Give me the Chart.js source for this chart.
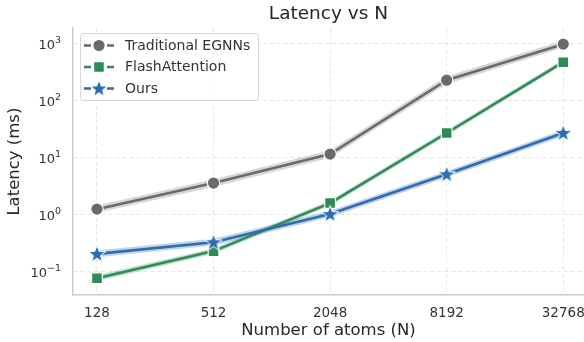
<!DOCTYPE html>
<html>
<head>
<meta charset="utf-8">
<script src="https://cdn.jsdelivr.net/npm/chart.js@4.4.1/dist/chart.umd.min.js"></script>
<style>
  html, body { margin: 0; padding: 0; background: #fff; }
  #wrap { width: 584px; height: 342px; }
</style>
</head>
<body>
<div id="wrap"><canvas id="myChart"></canvas></div>
<script>
// data
const atoms = [128, 512, 2048, 8192, 32768];

const traditional   = [1.22, 3.5, 11.3, 224, 960];
const traditionalLo = [1.05, 3.0, 9.7, 192, 830];
const traditionalHi = [1.42, 4.1, 13.2, 262, 1110];

const flash   = [0.075, 0.224, 1.56, 26.5, 464];
const flashLo = [0.066, 0.200, 1.40, 23.8, 420];
const flashHi = [0.085, 0.252, 1.74, 29.5, 515];

const ours   = [0.20, 0.32, 1.0, 5.0, 26.5];
const oursLo = [0.174, 0.28, 0.88, 4.4, 23.3];
const oursHi = [0.23, 0.37, 1.14, 5.7, 30.2];

const yTicks = [0.1, 1, 10, 100, 1000];
const yTickExp = ['\u22121', '0', '1', '2', '3'];

const GRAY = '#69696e', GREEN = '#2e8b57', BLUE = '#2d6cb3';

function makeStar(r, color) {
  const c = document.createElement('canvas');
  const s = Math.ceil(r * 2 + 4);
  c.width = s; c.height = s;
  const g = c.getContext('2d');
  g.beginPath();
  for (let i = 0; i < 10; i++) {
    const rad = i % 2 === 0 ? r : r * 0.42;
    const a = -Math.PI / 2 + i * Math.PI / 5;
    const px = s / 2 + rad * Math.cos(a), py = s / 2 + 0.5 + rad * Math.sin(a);
    i === 0 ? g.moveTo(px, py) : g.lineTo(px, py);
  }
  g.closePath();
  g.fillStyle = color;
  g.fill();
  g.strokeStyle = '#fff';
  g.lineWidth = 1;
  g.stroke();
  return c;
}
const starImg = makeStar(9, BLUE);

function pts(vals) { return vals.map((v, i) => ({x: atoms[i], y: v})); }

const series = [
  {label: 'Traditional EGNNs', vals: traditional, lo: traditionalLo, hi: traditionalHi, color: GRAY, band: 'rgba(150,150,152,0.38)', style: 'circle', radius: 6.2, order: 2},
  {label: 'FlashAttention', vals: flash, lo: flashLo, hi: flashHi, color: GREEN, band: 'rgba(46,139,87,0.28)', style: 'rect', radius: 7.6, order: 1},
  {label: 'Ours', vals: ours, lo: oursLo, hi: oursHi, color: BLUE, band: 'rgba(45,108,179,0.30)', style: starImg, radius: 9, order: 0}
];

const datasets = [];
series.forEach(s => {
  const loIdx = datasets.length;
  datasets.push({data: pts(s.lo), borderWidth: 0, pointRadius: 0, fill: false, order: 10});
  datasets.push({data: pts(s.hi), borderWidth: 0, pointRadius: 0, fill: loIdx, backgroundColor: s.band, order: 10});
});
series.forEach(s => {
  datasets.push({
    label: s.label, data: pts(s.vals), borderColor: s.color, backgroundColor: s.color,
    borderWidth: 2.6, pointStyle: s.style, pointRadius: s.radius, pointHoverRadius: s.radius,
    pointBorderColor: '#fff', pointBorderWidth: 1.2, pointBackgroundColor: s.color,
    fill: false, order: s.order, clip: false
  });
});

// legend drawn like the reference: dashed line with marker
const legendBox = {
  id: 'legendBox',
  afterDraw(chart) {
    const ctx = chart.ctx;
    ctx.save();
    const x0 = 80.5, y0 = 33.5, w = 178, h = 67;
    ctx.beginPath();
    ctx.roundRect(x0, y0, w, h, 3);
    ctx.fillStyle = 'rgba(255,255,255,0.85)';
    ctx.fill();
    ctx.strokeStyle = '#d6d6d6';
    ctx.lineWidth = 1;
    ctx.stroke();
    series.forEach((s, i) => {
      const cy = 45.5 + i * 21.5;
      ctx.strokeStyle = s.color;
      ctx.lineWidth = 2.6;
      ctx.beginPath();
      ctx.moveTo(84, cy); ctx.lineTo(91, cy);
      ctx.moveTo(107, cy); ctx.lineTo(114, cy);
      ctx.stroke();
      if (s.style === starImg) {
        ctx.drawImage(starImg, 99 - starImg.width / 2, cy - starImg.height / 2);
      } else {
        ctx.fillStyle = s.color;
        ctx.strokeStyle = '#fff';
        ctx.lineWidth = 1.2;
        ctx.beginPath();
        if (s.style === 'circle') ctx.arc(99, cy, s.radius, 0, Math.PI * 2);
        else { const a = s.radius * Math.SQRT1_2; ctx.rect(99 - a, cy - a, 2 * a, 2 * a); }
        ctx.fill(); ctx.stroke();
      }
      ctx.fillStyle = '#333';
      ctx.font = '14px "DejaVu Sans"';
      ctx.textBaseline = 'middle';
      ctx.textAlign = 'left';
      ctx.fillText(s.label, 125, cy + 0.5);
    });
    ctx.restore();
  }
};

// tick labels: 10 with a raised exponent on y, plain numbers on x
const tickLabels = {
  id: 'tickLabels',
  afterDraw(chart) {
    const ctx = chart.ctx, ys = chart.scales.y, xs = chart.scales.x;
    ctx.save();
    ctx.fillStyle = '#333';
    ctx.textBaseline = 'alphabetic';
    ctx.textAlign = 'left';
    yTicks.forEach((v, i) => {
      const y = ys.getPixelForValue(v);
      ctx.font = '9.5px "DejaVu Sans"';
      const ew = ctx.measureText(yTickExp[i]).width;
      ctx.font = '13px "DejaVu Sans"';
      const bw = ctx.measureText('10').width;
      const right = 61;
      ctx.fillText('10', right - ew - bw, y + 6);
      ctx.font = '9.5px "DejaVu Sans"';
      ctx.fillText(yTickExp[i], right - ew, y);
    });
    ctx.font = '13.5px "DejaVu Sans"';
    ctx.textAlign = 'center';
    ctx.textBaseline = 'middle';
    atoms.forEach(v => {
      ctx.fillText(String(v), xs.getPixelForValue(v), xs.top + 18);
    });
    ctx.restore();
  }
};

const ctx = document.getElementById('myChart');
new Chart(ctx, {
  type: 'line',
  data: {datasets: datasets},
  plugins: [legendBox, tickLabels],
  options: {
    responsive: true,
    maintainAspectRatio: false,
    animation: false,
    layout: {autoPadding: false, padding: {left: 0, right: 0, top: 0, bottom: 0}},
    plugins: {
      legend: {display: false},
      tooltip: {enabled: false},
      title: {
        display: true, text: 'Latency vs N', color: '#262626', fullSize: false,
        font: {family: 'DejaVu Sans', size: 18.5, weight: 'normal'},
        padding: {top: 3, bottom: 3}
      }
    },
    scales: {
      x: {
        type: 'logarithmic',
        min: atoms[0] / 1.33, max: atoms[atoms.length - 1] * 1.28,
        afterBuildTicks: sc => { sc.ticks = atoms.map(v => ({value: v})); },
        afterFit: sc => { sc.height = 47; },
        ticks: {display: false},
        grid: {color: '#e6e6e6', drawTicks: false},
        border: {display: true, color: '#cccccc', width: 1.5, dash: [4, 3]},
        title: {display: true, text: 'Number of atoms (N)', color: '#262626',
          font: {family: 'DejaVu Sans', size: 16.5}, padding: {top: 1, bottom: 1}}
      },
      y: {
        type: 'logarithmic',
        min: 0.038, max: 1830,
        afterBuildTicks: sc => { sc.ticks = yTicks.map(v => ({value: v})); },
        afterFit: sc => { sc.width = 73; },
        ticks: {display: false},
        grid: {color: '#e6e6e6', drawTicks: false},
        border: {display: true, color: '#cccccc', width: 1.5, dash: [4, 3]},
        title: {display: true, text: 'Latency (ms)', color: '#262626',
          font: {family: 'DejaVu Sans', size: 16.5}, padding: {top: 5, bottom: 2}}
      }
    }
  }
});
</script>
</body>
</html>
